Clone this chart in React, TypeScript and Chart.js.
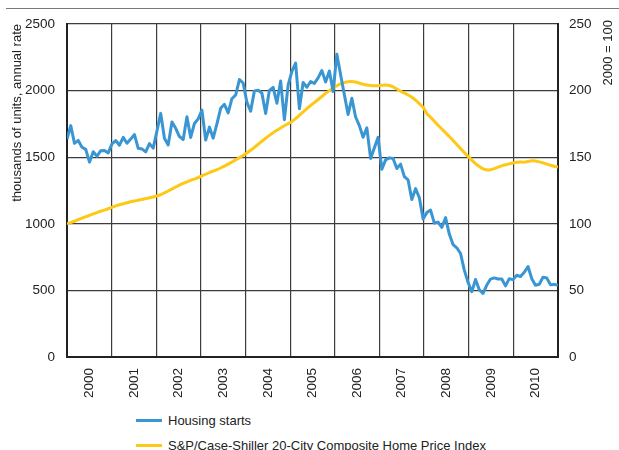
import React, { useEffect, useRef } from 'react';
import { Chart, registerables } from 'chart.js';

Chart.register(...registerables);

// ---------- data ----------
const yearLabels = ['2000', '2001', '2002', '2003', '2004', '2005', '2006', '2007', '2008', '2009', '2010'];

// Housing starts, thousands of units, annual rate (monthly, Jan 2000 – Dec 2010)
const housingStarts = [
  1636, 1737, 1604, 1626, 1575, 1559, 1463, 1541, 1507, 1549, 1551, 1532,
  1600, 1625, 1590, 1649, 1605, 1636, 1670, 1567, 1562, 1540, 1602, 1568,
  1698, 1829, 1642, 1592, 1764, 1717, 1655, 1633, 1804, 1648, 1753, 1788,
  1853, 1629, 1726, 1643, 1751, 1867, 1897, 1833, 1939, 1967, 2083, 2057,
  1911, 1846, 1998, 2003, 1981, 1828, 2002, 2024, 1905, 2072, 1782, 2042,
  2144, 2207, 1864, 2061, 2025, 2068, 2054, 2095, 2151, 2065, 2147, 1994,
  2273, 2119, 1969, 1821, 1942, 1802, 1737, 1650, 1720, 1491, 1570, 1649,
  1409, 1480, 1495, 1490, 1415, 1448, 1354, 1330, 1183, 1264, 1197, 1037,
  1084, 1103, 1005, 1013, 973, 1046, 923, 844, 820, 777, 652, 560,
  490, 582, 505, 478, 540, 585, 594, 586, 585, 534, 588, 581,
  614, 604, 636, 679, 588, 539, 546, 599, 593, 543, 545, 539,
];

// S&P/Case-Shiller 20-City Composite Home Price Index, 2000 = 100
const caseShiller = [
  100.0, 100.9, 101.9, 103.1, 104.2, 105.3, 106.4, 107.4, 108.4, 109.4, 110.3, 111.3,
  112.4, 113.4, 114.3, 115.1, 115.8, 116.5, 117.1, 117.7, 118.3, 118.9, 119.5, 120.1,
  121.0, 121.9, 123.2, 124.6, 126.1, 127.6, 129.0, 130.3, 131.5, 132.6, 133.6, 134.6,
  136.0, 137.2, 138.5, 139.6, 140.7, 141.9, 143.3, 144.8, 146.4, 148.0, 149.7, 151.3,
  153.2, 155.2, 157.4, 159.7, 162.0, 164.2, 166.4, 168.4, 170.2, 171.9, 173.6, 175.2,
  176.8, 179.0, 181.5, 184.0, 186.5, 188.8, 191.0, 193.3, 195.6, 197.9, 200.0, 201.9,
  203.6, 205.0, 206.0, 206.7, 206.8, 206.4, 205.6, 204.8, 204.2, 203.8, 203.7, 203.7,
  204.0, 204.2, 203.8, 202.8, 201.2, 199.5, 198.1, 196.7, 195.0, 192.9, 190.2, 187.6,
  182.8, 180.0, 177.0, 174.0, 171.2, 168.4, 165.5, 162.6, 159.6, 156.6, 153.5, 150.6,
  147.8, 145.2, 143.0, 141.3, 140.5, 140.6, 141.4, 142.5, 143.5, 144.3, 145.0, 145.7,
  146.2, 146.4, 146.3, 146.8, 147.3, 147.2, 146.5, 145.7, 144.8, 144.0, 143.2, 142.6,
];

const seriesLabels = ['Housing starts', 'S&P/Case-Shiller 20-City Composite Home Price Index'];
const leftAxisTitle = 'thousands of units, annual rate';
const rightAxisTitle = '2000 = 100';

// ---------- style ----------
const FONT = "'Liberation Sans', Arial, Helvetica, sans-serif";
const BLUE = '#3a96d3';
const YELLOW = '#fdc816';
const GRID = '#3c3c3c';
const AXIS = '#222222';
const TEXT = '#222222';

const rightTitlePlugin = {
  id: 'rightTitle',
  afterDraw(chart: any) {
    const { ctx, chartArea } = chart;
    ctx.save();
    ctx.translate(chartArea.right + 50, chartArea.top - 4);
    ctx.rotate(-Math.PI / 2);
    ctx.font = `13px ${FONT}`;
    ctx.fillStyle = TEXT;
    ctx.textAlign = 'right';
    ctx.textBaseline = 'middle';
    ctx.fillText(rightAxisTitle, 0, 0);
    ctx.restore();
  },
};

export default function App() {
  const canvasRef = useRef<HTMLCanvasElement | null>(null);

  useEffect(() => {
    if (!canvasRef.current) return;
    const lastIndex = housingStarts.length - 1;
    const yearWidth = lastIndex / yearLabels.length;

    const chart = new Chart(canvasRef.current, {
      type: 'line',
      data: {
        datasets: [
          {
            label: seriesLabels[0],
            data: housingStarts.map((v, i) => ({ x: i, y: v })),
            borderColor: BLUE,
            backgroundColor: BLUE,
            borderWidth: 3,
            pointRadius: 0,
            tension: 0,
            yAxisID: 'y',
            borderJoinStyle: 'round',
          },
          {
            label: seriesLabels[1],
            data: caseShiller.map((v, i) => ({ x: i, y: v })),
            borderColor: YELLOW,
            backgroundColor: YELLOW,
            borderWidth: 3,
            pointRadius: 0,
            tension: 0.3,
            yAxisID: 'y2',
            borderJoinStyle: 'round',
          },
        ],
      },
      options: {
        animation: false,
        responsive: false,
        devicePixelRatio: 1,
        layout: { padding: { left: 0, right: 0, top: 24, bottom: 0 } },
        plugins: {
          legend: { display: false },
          tooltip: { enabled: false },
        },
        scales: {
          x: {
            type: 'linear',
            min: 0,
            max: lastIndex,
            afterBuildTicks: (scale: any) => {
              const t: any[] = [];
              for (let k = 0; k <= yearLabels.length; k++) {
                t.push({ value: k * yearWidth });
                if (k < yearLabels.length) t.push({ value: (k + 0.5) * yearWidth });
              }
              scale.ticks = t;
            },
            afterFit: (scale: any) => {
              scale.height = 48;
            },
            ticks: {
              autoSkip: false,
              minRotation: 90,
              maxRotation: 90,
              padding: 11,
              color: TEXT,
              font: { family: FONT, size: 13.5 },
              callback: (_v: any, index: number) =>
                index % 2 === 1 ? yearLabels[(index - 1) / 2] : '',
            },
            grid: {
              drawTicks: false,
              color: (ctx: any) => (ctx.index % 2 === 0 ? GRID : 'rgba(0,0,0,0)'),
              lineWidth: 1.2,
            },
            border: { display: true, color: AXIS, width: 2 },
          },
          y: {
            position: 'left',
            min: 0,
            max: 2500,
            afterFit: (scale: any) => {
              scale.width = 67;
            },
            ticks: {
              stepSize: 500,
              padding: 12,
              color: TEXT,
              font: { family: FONT, size: 13.5 },
              callback: (v: any) => String(v),
            },
            grid: { drawTicks: false, color: GRID, lineWidth: 1.2 },
            border: { display: true, color: AXIS, width: 2 },
            title: {
              display: true,
              text: leftAxisTitle,
              align: 'end',
              color: TEXT,
              font: { family: FONT, size: 13 },
              padding: { top: 10, bottom: 0 },
            },
          },
          y2: {
            position: 'right',
            min: 0,
            max: 250,
            afterFit: (scale: any) => {
              scale.width = 61;
            },
            ticks: {
              stepSize: 50,
              padding: 11,
              color: TEXT,
              font: { family: FONT, size: 13.5 },
              callback: (v: any) => String(v),
            },
            grid: { display: false, drawTicks: false },
            border: { display: true, color: AXIS, width: 2 },
          },
        },
      } as any,
      plugins: [rightTitlePlugin],
    });

    return () => chart.destroy();
  }, []);

  const colors = [BLUE, YELLOW];

  return (
    <div
      style={{
        position: 'absolute',
        left: 0,
        top: 0,
        width: 619,
        height: 450,
        overflow: 'hidden',
        background: '#ffffff',
      }}
    >
      <div style={{ position: 'absolute', left: 6, right: 0, top: 8, height: 1, background: '#7a7a7a' }} />
      <canvas
        ref={canvasRef}
        width={619}
        height={405}
        style={{ position: 'absolute', left: 0, top: 0, width: 619, height: 405, display: 'block' }}
      />
      <div
        style={{
          position: 'absolute',
          left: 136,
          top: 408,
          font: `13px ${FONT}`,
          color: TEXT,
        }}
      >
        {seriesLabels.map((label, i) => (
          <div key={label} style={{ display: 'flex', alignItems: 'center', height: 25, whiteSpace: 'nowrap' }}>
            <span style={{ display: 'inline-block', width: 26, height: 3, background: colors[i], marginRight: 6 }} />
            <span>{label}</span>
          </div>
        ))}
      </div>
    </div>
  );
}
